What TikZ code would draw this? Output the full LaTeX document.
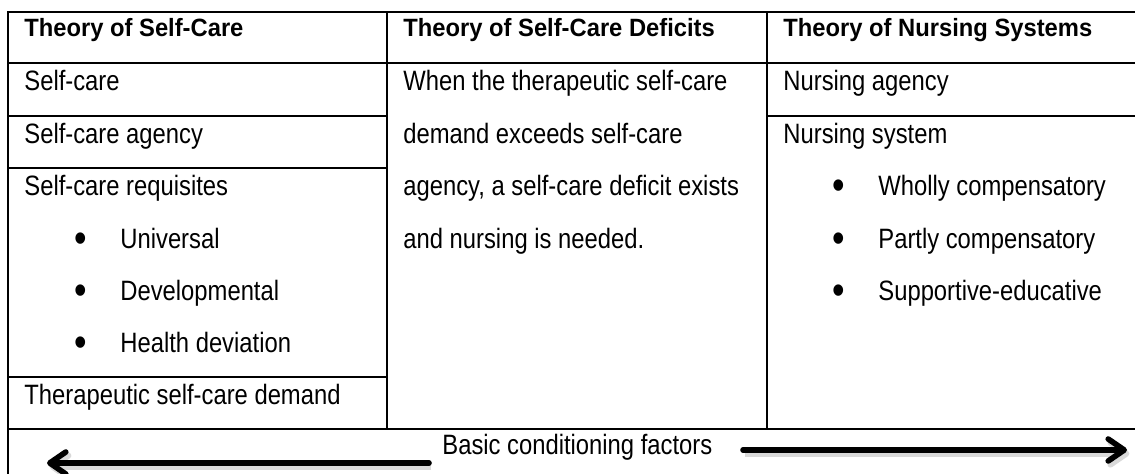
\documentclass[tikz,border=0pt]{standalone}
\usepackage{fontspec}
\setmainfont{Liberation Sans}[FakeStretch=0.95]
\newfontfamily\narrowfont{Liberation Sans}[FakeStretch=0.85]
\usetikzlibrary{arrows.meta}
\newcommand{\itembul}[1]{\makebox[23pt][l]{\raisebox{-0.12em}{\scalebox{1.5}{\textbullet}}}#1}

\begin{document}
\begin{tikzpicture}[x=0.5pt, y=-0.5pt,
    head/.style={anchor=base west, inner sep=0pt, font=\fontsize{12.5}{15}\selectfont\bfseries},
    cell/.style={anchor=base west, inner sep=0pt, font=\narrowfont\fontsize{14}{17}\selectfont},
    rule/.style={line width=0.8pt},
    factor/.style={line width=2.8pt, line cap=round, -{Straight Barb[length=8pt,width=11pt,round]},
        preaction={draw=black!15, line width=3pt, transform canvas={shift={(1.2pt,-1.8pt)}}}}]
    \useasboundingbox (0,0) rectangle (1135,474);

    % Table frame and columns
    \draw[rule] (1135,12) -- (8,12) -- (8,474);
    \draw[rule] (387,12) -- (387,429);
    \draw[rule] (767,12) -- (767,429);
    \draw[rule] (8,63) -- (1135,63);
    \draw[rule] (8,429) -- (1135,429);
    % Row lines
    \draw[rule] (8,116) -- (387,116);
    \draw[rule] (767,116) -- (1135,116);
    \draw[rule] (8,168) -- (387,168);
    \draw[rule] (8,377) -- (387,377);

    % Headers
    \node[head] (selfcarehead) at (24,37) {Theory of Self-Care};
    \node[head] (deficithead) at (403,37) {Theory of Self-Care Deficits};
    \node[head] (systemhead) at (783,37) {Theory of Nursing Systems};

    % Theory of self-care
    \node[cell] (selfcare) at (24,91) {Self-care};
    \node[cell] (agency) at (24,144) {Self-care agency};
    \node[cell] (requisites) at (24,196) {Self-care requisites};
    \node[cell] (universal) at (74,249) {\itembul{Universal}};
    \node[cell] (developmental) at (74,301) {\itembul{Developmental}};
    \node[cell] (health) at (74,353) {\itembul{Health deviation}};
    \node[cell] (demand) at (24,405) {Therapeutic self-care demand};

    % Theory of self-care deficits
    \node[cell] (deficit1) at (403,91) {When the therapeutic self-care};
    \node[cell] (deficit2) at (403,144) {demand exceeds self-care};
    \node[cell] (deficit3) at (403,196) {agency, a self-care deficit exists};
    \node[cell] (deficit4) at (403,249) {and nursing is needed.};

    % Theory of nursing systems
    \node[cell] (nursingagency) at (783,91) {Nursing agency};
    \node[cell] (nursingsystem) at (783,144) {Nursing system};
    \node[cell] (wholly) at (832,196) {\itembul{Wholly compensatory}};
    \node[cell] (partly) at (832,249) {\itembul{Partly compensatory}};
    \node[cell] (supportive) at (832,301) {\itembul{Supportive-educative}};

    % Basic conditioning factors
    \node[cell] (factors) at (442,455) {Basic conditioning factors};
    \coordinate (leftstart) at (429,463);
    \coordinate (lefttip) at (47,463);
    \coordinate (rightstart) at (743,450);
    \coordinate (righttip) at (1127,450);
    \draw[factor] (leftstart) -- (lefttip);
    \draw[factor] (rightstart) -- (righttip);

\end{tikzpicture}
\end{document}
